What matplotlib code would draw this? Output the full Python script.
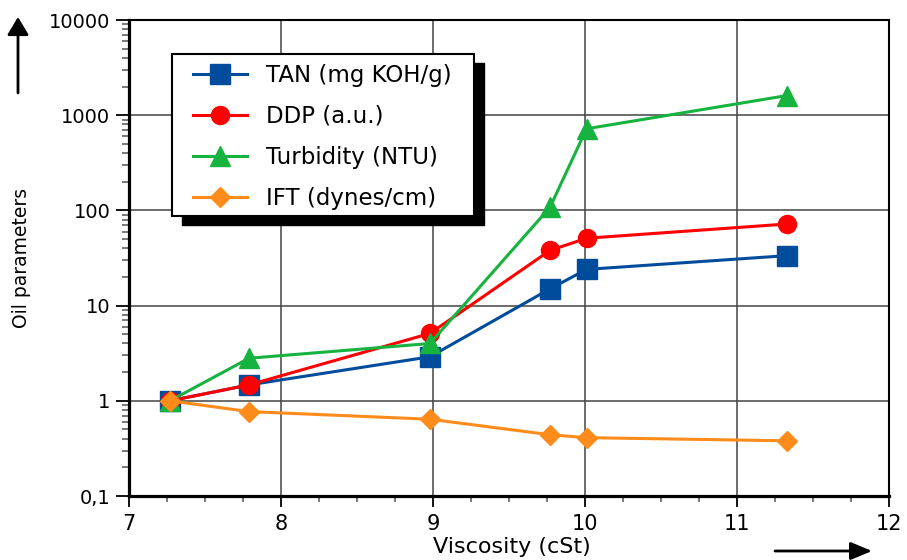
import matplotlib
matplotlib.use('Agg')
import matplotlib.pyplot as plt
import numpy as np
from matplotlib.patches import Rectangle
from matplotlib.ticker import MultipleLocator, LogLocator, NullFormatter

# data
visc = [7.27, 7.79, 8.98, 9.77, 10.01, 11.33]
tan = [1.0, 1.47, 2.9, 15.0, 24.0, 33.5]
ddp = [1.0, 1.47, 5.1, 38.0, 51.0, 72.0]
turb = [1.0, 2.8, 4.0, 108.0, 720.0, 1610.0]
ift = [1.0, 0.77, 0.64, 0.44, 0.41, 0.38]

labels = ['TAN (mg KOH/g)', 'DDP (a.u.)', 'Turbidity (NTU)', 'IFT (dynes/cm)']
yTicks = [0.1, 1, 10, 100, 1000, 10000]
yTickLabels = ['0,1', '1', '10', '100', '1000', '10000']
xTicks = [7, 8, 9, 10, 11, 12]

plt.rcParams['font.family'] = 'DejaVu Sans'

fig = plt.figure(figsize=(9.07, 5.6), dpi=100)
ax = fig.add_axes([129/907, 64/560, 760/907, 476/560])

lw = 2.2
ax.plot(visc, tan, '-s', color='#004C9C', lw=lw, ms=14, label=labels[0], zorder=5)
ax.plot(visc, ddp, '-o', color='#FF0000', lw=lw, ms=13, label=labels[1], zorder=6)
ax.plot(visc, turb, '-^', color='#16B340', lw=lw, ms=14, label=labels[2], zorder=7)
ax.plot(visc, ift, '-D', color='#FF8C1A', lw=lw, ms=10, label=labels[3], zorder=8)

ax.set_yscale('log')
ax.set_xlim(7, 12)
ax.set_ylim(0.1, 10000)
ax.set_yticks(yTicks)
ax.set_yticklabels(yTickLabels, fontsize=14)
ax.yaxis.set_minor_locator(LogLocator(base=10, subs=np.arange(2, 10)))
ax.yaxis.set_minor_formatter(NullFormatter())
ax.set_xticks(xTicks)
ax.set_xticklabels([str(t) for t in xTicks], fontsize=15)
ax.xaxis.set_minor_locator(MultipleLocator(0.25))

ax.tick_params(axis='y', which='major', length=9.5, width=1.3, pad=4)
ax.tick_params(axis='y', which='minor', length=5, width=1.1, color='#555555')
ax.tick_params(axis='x', which='major', length=8, width=1.3, pad=5)
ax.tick_params(axis='x', which='minor', length=4, width=1.1, color='#555555')

ax.grid(True, which='major', color='#444444', lw=1.1, zorder=0)
for s in ['left', 'bottom']:
    ax.spines[s].set_linewidth(2.3)
for s in ['top', 'right']:
    ax.spines[s].set_linewidth(1.5)

ax.set_xlabel('Viscosity (cSt)', fontsize=16)
ax.xaxis.set_label_coords((512 - 129) / 760, -0.086)
ax.set_ylabel('Oil parameters', fontsize=13.5)
ax.yaxis.set_label_coords(-(129 - 31) / 760, 0.5)

# legend box with hard shadow
box_l, box_r = (172 - 129) / 760, (474 - 129) / 760
box_b, box_t = (496 - 216) / 476, (496 - 54) / 476
dx, dy = 10 / 760, 9 / 476
ax.add_patch(Rectangle((box_l + dx, box_b - dy), box_r - box_l, box_t - box_b,
                       transform=ax.transAxes, facecolor='black', edgecolor='black',
                       zorder=20, clip_on=False))
ax.add_patch(Rectangle((box_l, box_b), box_r - box_l, box_t - box_b,
                       transform=ax.transAxes, facecolor='white', edgecolor='black',
                       lw=1.5, zorder=21, clip_on=False))
leg = ax.legend(loc='upper left', bbox_to_anchor=((193 - 129) / 760, (496 - 64) / 476),
                frameon=False, fontsize=16.5, numpoints=1, borderpad=0, borderaxespad=0,
                handlelength=2.35, handletextpad=0.85, labelspacing=0.78)
leg.set_zorder(22)

# direction arrows
ax.annotate('', xy=(18, 543), xytext=(18, 467), xycoords='figure pixels',
            textcoords='figure pixels',
            arrowprops=dict(arrowstyle='-|>,head_length=0.75,head_width=0.45',
                            mutation_scale=14.4, lw=2, color='black',
                            shrinkA=0, shrinkB=0))
ax.annotate('', xy=(872, 9), xytext=(775, 9), xycoords='figure pixels',
            textcoords='figure pixels',
            arrowprops=dict(arrowstyle='-|>,head_length=0.9,head_width=0.375',
                            mutation_scale=14.4, lw=2, color='black',
                            shrinkA=0, shrinkB=0))

plt.savefig('out.png', dpi=100)
